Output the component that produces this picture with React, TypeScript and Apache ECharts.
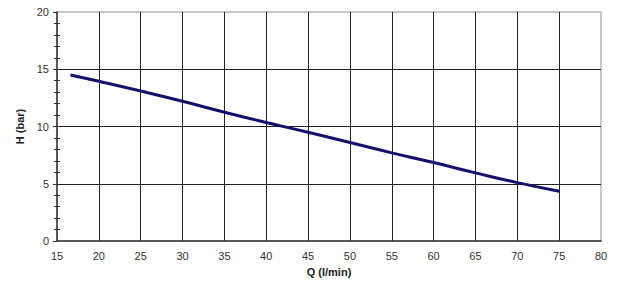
import React, { useEffect, useRef } from "react";
import * as echarts from "echarts";

const flowQ = [16.6, 20, 25, 30, 35, 40, 45, 50, 55, 60, 65, 70, 75];
const headH = [14.5, 13.95, 13.1, 12.2, 11.25, 10.35, 9.5, 8.6, 7.7, 6.85, 5.95, 5.1, 4.35];

export default function App() {
  const ref = useRef<HTMLDivElement>(null);
  useEffect(() => {
    if (!ref.current) return;
    const chart = echarts.init(ref.current, undefined, { renderer: "svg" });
    const labelStyle = { color: "#333", fontSize: 11, fontFamily: "Liberation Sans, Arial, sans-serif" };
    const nameStyle = { color: "#222", fontSize: 11, fontWeight: "bold" as const, fontFamily: "Liberation Sans, Arial, sans-serif" };
    chart.setOption({
      animation: false,
      backgroundColor: "#fff",
      grid: {
        left: 57,
        right: 23,
        top: 12,
        bottom: 57,
        show: true,
        borderColor: "#b5b5b5",
        borderWidth: 1.5,
      },
      xAxis: {
        type: "value",
        min: 15,
        max: 80,
        interval: 5,
        name: "Q (l/min)",
        nameLocation: "middle",
        nameGap: 25,
        nameTextStyle: nameStyle,
        axisLine: { show: true, onZero: false, lineStyle: { color: "#333", width: 1.5 } },
        axisTick: { show: false },
        axisLabel: { ...labelStyle, margin: 9 },
        splitLine: { show: true, showMinLine: false, showMaxLine: false, lineStyle: { color: "#222", width: 1 } },
      },
      yAxis: [
        {
          type: "value",
          min: 0,
          max: 20,
          interval: 5,
          name: "H (bar)",
          nameLocation: "middle",
          nameGap: 30,
          nameRotate: 90,
          nameTextStyle: nameStyle,
          axisLine: { show: true, onZero: false, lineStyle: { color: "#333", width: 1.5 } },
          axisTick: { show: true, length: 4, lineStyle: { color: "#333" } },
          minorTick: { show: true, splitNumber: 5, length: 3, lineStyle: { color: "#333", width: 1 } },
          axisLabel: { ...labelStyle, margin: 8 },
          splitLine: { show: true, showMinLine: false, showMaxLine: false, lineStyle: { color: "#222", width: 1 } },
        },
        {
          type: "value",
          position: "left",
          min: 0,
          max: 20,
          interval: 5,
          axisLine: { show: false },
          axisTick: { show: false },
          minorTick: { show: true, splitNumber: 5, length: 3, lineStyle: { color: "#333", width: 1 } },
          axisLabel: { show: false },
          splitLine: { show: false },
        },
      ],
      series: [
        {
          type: "line",
          data: flowQ.map((q, i) => [q, headH[i]]),
          showSymbol: false,
          smooth: true,
          lineStyle: { color: "#10106e", width: 3 },
        },
      ],
    });
    // make second axis ticks point inward
    chart.setOption({ yAxis: [{}, { axisTick: { inside: true }, minorTick: { show: true } }] });
    return () => chart.dispose();
  }, []);
  return <div ref={ref} style={{ width: 624, height: 298, position: "absolute", left: 0, top: 0 }} />;
}
